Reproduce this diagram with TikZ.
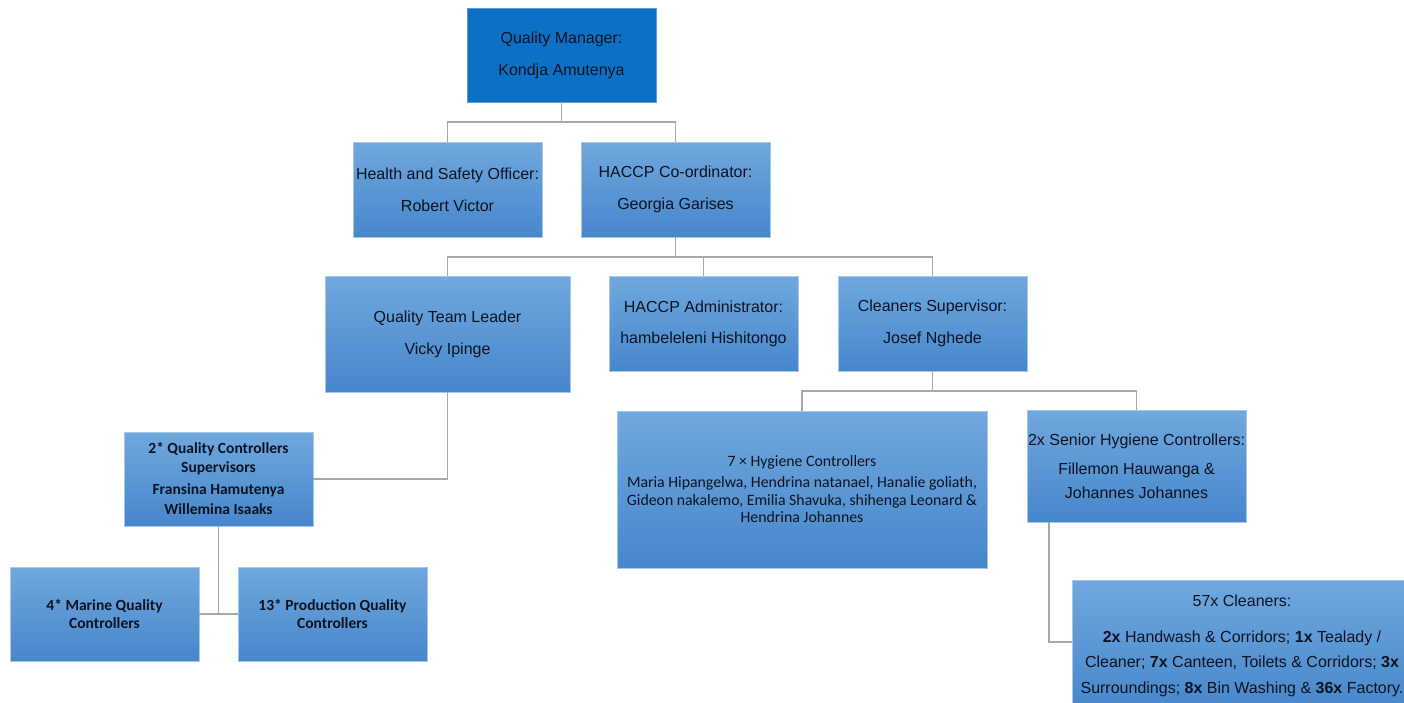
\documentclass[tikz,border=0pt]{standalone}
\usepackage{fontspec}
\setmainfont{Liberation Sans}
\newfontfamily\calibri{Carlito}
\definecolor{boxtop}{RGB}{112,168,222}
\definecolor{boxbot}{RGB}{70,134,203}
\definecolor{boxedge}{RGB}{165,200,235}
\definecolor{headblue}{RGB}{12,112,196}
\definecolor{headedge}{RGB}{95,155,218}
\definecolor{ink}{RGB}{14,20,34}
\definecolor{linegray}{RGB}{168,168,168}
\begin{document}
\begin{tikzpicture}[x=1pt,y=-1pt,
  box/.style={draw=boxedge, line width=0.8pt, top color=boxtop, bottom color=boxbot,
    inner sep=0pt, outer sep=0pt, align=center, text=ink,
    font=\fontsize{16}{19}\selectfont},
  headbox/.style={draw=headedge, line width=0.8pt, fill=headblue,
    inner sep=0pt, outer sep=0pt, align=center, text=ink,
    font=\fontsize{16}{19}\selectfont},
  calbold/.style={font=\calibri\bfseries\fontsize{15.5}{20}\selectfont},
  conn/.style={draw=linegray, line width=1.1pt}
]
\useasboundingbox (0,0) rectangle (1404,702);

% --- level 1
\node[headbox, minimum width=189pt, minimum height=94pt] (qm) at (561.5,55)
  {Quality Manager:\\[13pt]Kondja Amutenya};

% --- level 2
\node[box, minimum width=189pt, minimum height=95pt] (hs) at (447.5,189.5)
  {Health and Safety Officer:\\[13pt]Robert Victor};
\node[box, minimum width=189pt, minimum height=95pt] (hc) at (675.5,189.5)
  {HACCP Co-ordinator:\\[13pt]Georgia Garises};

% --- level 3
\node[box, minimum width=245pt, minimum height=116pt] (qtl) at (447.5,334)
  {Quality Team Leader\\[13pt]Vicky Ipinge};
\node[box, minimum width=189pt, minimum height=95pt] (adm) at (703.5,323.5)
  {HACCP Administrator:\\[12pt]hambeleleni Hishitongo};
\node[box, minimum width=189pt, minimum height=95pt] (cs) at (932.5,323.5)
  {Cleaners Supervisor:\\[13pt]Josef Nghede};

% --- quality branch
\node[box, calbold, minimum width=189pt, minimum height=94pt] (qcs) at (218.5,479)
  {2* Quality Controllers\\[-1pt]Supervisors\\[2pt]Fransina Hamutenya\\Willemina Isaaks};
\node[box, calbold, minimum width=189pt, minimum height=94pt] (mqc) at (104.5,614)
  {4* Marine Quality\\[-2pt]Controllers};
\node[box, calbold, minimum width=189pt, minimum height=94pt] (pqc) at (332.5,614)
  {13* Production Quality\\[-2pt]Controllers};

% --- hygiene branch
\node[box, font=\calibri\fontsize{15.8}{17.5}\selectfont,
      minimum width=370pt, minimum height=157pt] (hyg) at (802,489.5)
  {7 × Hygiene Controllers\\[3.5pt]
   Maria Hipangelwa, Hendrina natanael, Hanalie goliath,\\
   Gideon nakalemo, Emilia Shavuka, shihenga Leonard \&\\
   Hendrina Johannes};
\node[box, minimum width=219pt, minimum height=112pt] (shc) at (1136.5,466)
  {2x Senior Hygiene Controllers:\\[10pt]Fillemon Hauwanga \&\\[5pt]Johannes Johannes};
\node[box, font=\fontsize{16}{25.5}\selectfont,
      minimum width=340pt, minimum height=132pt] (cln) at (1242,646)
  {57x Cleaners:\\[10pt]
   \textbf{2x} Handwash \& Corridors; \textbf{1x} Tealady /\\
   Cleaner; \textbf{7x} Canteen, Toilets \& Corridors; \textbf{3x}\\
   Surroundings; \textbf{8x} Bin Washing \& \textbf{36x} Factory.};

% --- connectors
\draw[conn] (qm.south) -- ++(0,20) -| (hs.north);
\draw[conn] (qm.south) -- ++(0,20) -| (hc.north);

\draw[conn] (hc.south) -- ++(0,20) -| (qtl.north);
\draw[conn] (hc.south) -- ++(0,20) -| (adm.north);
\draw[conn] (hc.south) -- ++(0,20) -| (cs.north);

\draw[conn] (qtl.south) |- (qcs.east);
\draw[conn] (qcs.south) |- (mqc.east);
\draw[conn] (qcs.south) |- (pqc.west);

\draw[conn] (cs.south) -- ++(0,20) -| (hyg.north);
\draw[conn] (cs.south) -- ++(0,20) -| (shc.north);

\coordinate (shcdrop) at ([xshift=22pt]shc.south west);
\draw[conn] (shcdrop) |- ([yshift=4pt]cln.west);
\end{tikzpicture}
\end{document}
